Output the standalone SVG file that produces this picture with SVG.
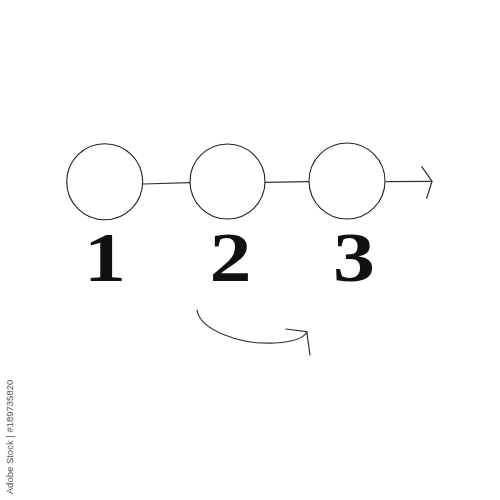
<svg xmlns="http://www.w3.org/2000/svg" width="500" height="500" viewBox="0 0 500 500">
<style>
.node{fill:#fff;stroke:#222;stroke-width:1.1}
.conn{fill:none;stroke:#333;stroke-width:1.2;stroke-linecap:round;stroke-linejoin:round}
.num{font-family:'Liberation Serif','Times New Roman',serif;font-weight:700;font-size:70px;fill:#111;text-anchor:middle}
.wm{font-family:'Liberation Sans',sans-serif;font-size:9.5px;fill:#555;text-anchor:middle}
</style>
<rect width="500" height="500" fill="#fff"/>
<g id="connectors">
<line class="conn" x1="143" y1="184" x2="190" y2="182.7"/>
<line class="conn" x1="265" y1="182.3" x2="309" y2="181.7"/>
<line class="conn" x1="386" y1="181.7" x2="432" y2="181.3"/>
<polyline class="conn" points="421.7,166.7 432,181.3 426.7,198.3"/>
<path class="conn" d="M197,310 C200,330 240,345 275,343 C295,342 304,337 307,332"/>
<polyline class="conn" points="286,329 306.7,331.7 310,355"/>
</g>
<g id="node1">
<circle class="node" cx="104.7" cy="181.7" r="38"/>
<text class="num" transform="translate(105,281) scale(1.2,1)">1</text>
</g>
<g id="node2">
<circle class="node" cx="227.5" cy="181.5" r="37.5"/>
<text class="num" transform="translate(230.5,281) scale(1.2,1)">2</text>
</g>
<g id="node3">
<circle class="node" cx="347" cy="181" r="38"/>
<text class="num" transform="translate(354,281) scale(1.2,1)">3</text>
</g>
<text class="wm" transform="translate(13,437) rotate(-90)">Adobe Stock | #189735820</text>
</svg>
